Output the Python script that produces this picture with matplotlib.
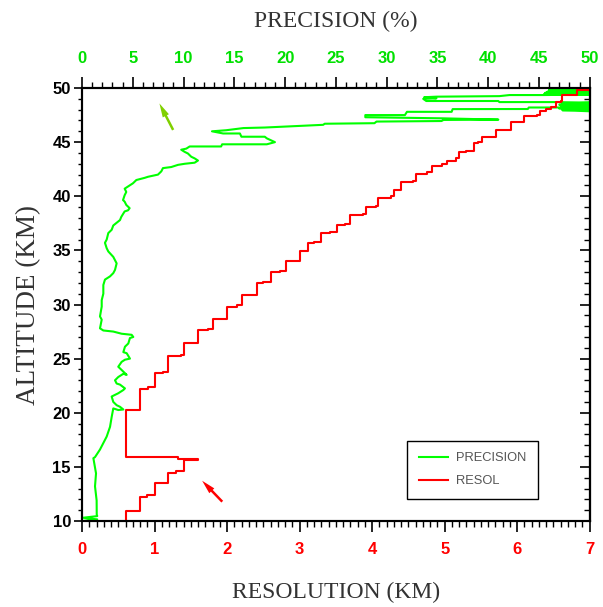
import numpy as np
import matplotlib
matplotlib.use("Agg")
import matplotlib.pyplot as plt
from matplotlib.ticker import MultipleLocator

# vertical resolution profile: value held between consecutive altitude edges (km)
res_alt_edges = [10.0, 10.95, 12.2, 12.4, 13.5, 14.4, 14.6, 15.6, 15.75, 15.95,
                 20.25, 22.2, 22.4, 23.7, 23.8, 25.2, 25.3, 26.4, 27.6, 27.75,
                 28.7, 29.8, 29.95, 30.9, 32.0, 32.1, 33.0, 33.1, 34.0, 34.9,
                 35.7, 35.8, 36.6, 36.7, 37.3, 37.4, 38.3, 38.4, 39.0, 39.1,
                 39.8, 40.0, 40.6, 41.3, 41.4, 42.1, 42.2, 42.8, 43.0, 43.3,
                 43.5, 44.1, 44.2, 44.9, 45.05, 45.5, 46.1, 46.9, 47.4, 47.5,
                 47.9, 48.1, 48.2, 48.7, 48.8, 49.35, 49.8, 50.0]
res_km = [0.61, 0.80, 0.90, 1.01, 1.19, 1.30, 1.40, 1.60, 1.33, 0.61,
          0.80, 0.91, 1.01, 1.12, 1.19, 1.37, 1.40, 1.60, 1.74, 1.81,
          2.00, 2.13, 2.20, 2.41, 2.50, 2.60, 2.73, 2.81, 3.01, 3.12,
          3.20, 3.30, 3.42, 3.51, 3.62, 3.70, 3.87, 3.91, 4.05, 4.08,
          4.26, 4.30, 4.40, 4.56, 4.61, 4.76, 4.82, 4.97, 5.03, 5.15,
          5.20, 5.30, 5.41, 5.46, 5.51, 5.71, 5.91, 6.09, 6.27, 6.31,
          6.40, 6.47, 6.53, 6.61, 6.62, 6.83, 7.0]

# precision profile (%)
prec_pct = [0.1, 1.5, 0.1, 1.5, 1.45, 1.44, 1.28, 1.38, 1.12, 1.28,
            1.77, 2.10, 2.43, 2.76, 2.92, 3.08, 3.57, 4.07, 3.74, 3.41,
            3.08, 2.92, 3.57, 4.07, 4.23, 3.74, 3.41, 3.25, 3.57, 4.07,
            4.40, 3.90, 3.57, 3.90, 4.23, 4.72, 4.40, 4.07, 4.23, 4.56,
            4.72, 5.05, 4.89, 3.90, 3.08, 2.10, 1.77, 1.94, 1.77, 1.94,
            1.94, 2.10, 2.10, 2.26, 2.76, 3.08, 3.25, 3.41, 3.25, 3.08,
            2.59, 2.43, 2.26, 2.43, 2.59, 2.92, 3.08, 3.74, 3.87, 4.20,
            4.53, 4.69, 4.36, 4.20, 4.04, 4.20, 4.36, 4.20, 4.53, 5.02,
            5.35, 6.17, 6.50, 7.48, 7.81, 7.97, 8.79, 9.45, 10.11, 11.09,
            11.42, 11.09, 10.76, 10.43, 10.11, 9.77, 10.27, 10.60, 13.7, 13.8,
            18.2, 19.0, 18.2, 18.0, 15.7, 15.55, 13.9, 12.8, 14.2, 15.9,
            18.0, 23.75, 23.9, 28.8, 29.0, 35.4, 35.6, 41.0, 35.5, 27.9,
            27.9, 31.8, 32.0, 36.4, 36.5, 43.9, 44.0, 47.2, 50.0, 47.3,
            50.0, 47.0, 50.0, 47.2, 50.0, 47.0, 50.0, 47.3, 50.0, 46.4,
            41.1, 41.0, 33.9, 33.6, 34.9, 33.7, 34.9, 41.1, 42.1, 45.4,
            50.0, 45.5, 50.0, 45.6, 50.0, 45.8, 50.0, 46.0, 50.0, 46.0,
            50.0, 46.0, 50.0]
prec_alt = [10.0, 10.15, 10.3, 10.45, 10.6, 11.9, 13.2, 14.4, 15.8, 15.9,
            16.6, 17.2, 17.8, 18.7, 19.6, 20.4, 20.25, 20.3, 20.55, 20.7,
            21.0, 21.5, 21.8, 22.1, 22.25, 22.6, 22.7, 23.0, 23.3, 23.6,
            23.5, 23.95, 24.25, 24.7, 24.9, 25.0, 25.5, 25.6, 26.1, 26.4,
            26.9, 27.0, 27.2, 27.3, 27.5, 27.6, 27.8, 28.6, 28.9, 29.8,
            30.4, 31.0, 31.8, 32.3, 32.6, 32.9, 33.2, 33.8, 34.1, 34.4,
            34.9, 35.2, 35.7, 36.0, 36.6, 36.9, 37.3, 37.8, 38.1, 38.6,
            38.7, 38.9, 39.2, 39.5, 39.65, 40.1, 40.4, 40.7, 40.9, 41.2,
            41.5, 41.7, 41.8, 42.0, 42.3, 42.6, 42.7, 42.9, 43.0, 43.1,
            43.3, 43.5, 43.65, 43.95, 44.1, 44.3, 44.4, 44.6, 44.6, 44.8,
            44.8, 45.0, 45.35, 45.5, 45.5, 45.8, 45.8, 46.0, 46.1, 46.3,
            46.35, 46.6, 46.7, 46.75, 46.9, 46.95, 47.05, 47.08, 47.2, 47.3,
            47.5, 47.5, 47.8, 47.8, 48.05, 48.06, 48.2, 48.2, 47.85, 47.95,
            48.0, 48.1, 48.2, 48.3, 48.35, 48.45, 48.5, 48.55, 48.65, 48.7,
            48.7, 48.8, 48.8, 49.0, 49.05, 49.15, 49.2, 49.25, 49.35, 49.35,
            49.4, 49.45, 49.5, 49.55, 49.6, 49.65, 49.7, 49.75, 49.8, 49.85,
            49.9, 49.95, 50.0]

alt_ticks = [10, 15, 20, 25, 30, 35, 40, 45, 50]
res_ticks = [0, 1, 2, 3, 4, 5, 6, 7]
prec_ticks = [0, 5, 10, 15, 20, 25, 30, 35, 40, 45, 50]

GREEN = '#00ff00'
GREEN_TXT = '#00e000'
RED = '#ff0000'
tick_font = {'family': 'Liberation Sans', 'weight': 'bold', 'size': 12}
label_font = {'family': 'Liberation Serif', 'size': 17, 'color': '#333333'}

# staircase path for the resolution curve
stair_x, stair_y = [], []
for i, r in enumerate(res_km):
    stair_x += [r, r]
    stair_y += [res_alt_edges[i], res_alt_edges[i + 1]]

fig = plt.figure(figsize=(6.03, 6.07), dpi=100)
ax = fig.add_axes([0.136, 0.1417, 0.842, 0.7133])
ax2 = ax.twiny()

# precision on the top axis, resolution on the bottom axis
l1, = ax.plot(prec_pct, prec_alt, color=GREEN, lw=1.5, label='PRECISION')
l2, = ax2.plot(stair_x, stair_y, color=RED, lw=1.5, label='RESOL')

ax.set_xlim(0, 50)
ax.set_ylim(10, 50)
ax2.set_xlim(0, 7)

ax.xaxis.tick_top()
ax.xaxis.set_label_position('top')
ax.set_xticks(prec_ticks)
ax.xaxis.set_minor_locator(MultipleLocator(1))
ax.set_xticklabels([str(t) for t in prec_ticks], fontdict=tick_font, color=GREEN_TXT)
ax.tick_params(axis='x', which='major', direction='out', length=8, width=1.2, pad=8)
ax.tick_params(axis='x', which='minor', direction='out', length=4, width=1.0)

ax2.xaxis.tick_bottom()
ax2.xaxis.set_label_position('bottom')
ax2.set_xticks(res_ticks)
ax2.xaxis.set_minor_locator(MultipleLocator(0.1))
ax2.set_xticklabels([str(t) for t in res_ticks], fontdict=tick_font, color=RED)
ax2.tick_params(axis='x', which='major', direction='out', length=8, width=1.2, pad=7)
ax2.tick_params(axis='x', which='minor', direction='out', length=4.5, width=1.0)

ax.set_yticks(alt_ticks)
ax.yaxis.set_minor_locator(MultipleLocator(1))
ax.set_yticklabels([str(t) for t in alt_ticks], fontdict=tick_font, color='black')
ax.tick_params(axis='y', which='major', direction='out', length=6, width=1.2, pad=2)
ax.tick_params(axis='y', which='minor', direction='out', length=3, width=1.0)

# right-hand ticks point inward
sec = ax.secondary_yaxis('right')
sec.set_yticks(alt_ticks)
sec.yaxis.set_minor_locator(MultipleLocator(1))
sec.tick_params(axis='y', which='major', direction='in', length=7, width=1.2, labelright=False)
sec.tick_params(axis='y', which='minor', direction='in', length=4, width=1.0)

for a in (ax, ax2):
    for s in a.spines.values():
        s.set_linewidth(1.5)
sec.spines['right'].set_linewidth(1.5)

ax.set_xlabel('PRECISION (%)', fontdict=label_font, labelpad=17)
ax2.set_xlabel('RESOLUTION (KM)', fontdict=label_font, labelpad=18)
ax.set_ylabel('ALTITUDE (KM)', fontdict={**label_font, 'size': 19.5}, labelpad=8)

# pointer arrows
ax.annotate('', xy=(7.5, 48.8), xytext=(9.1, 45.9),
            arrowprops=dict(arrowstyle='simple,head_length=1.0,head_width=0.5,tail_width=0.18',
                            color='#80d000', lw=0))
ax2.annotate('', xy=(1.63, 13.9), xytext=(1.96, 11.6),
             arrowprops=dict(arrowstyle='simple,head_length=1.0,head_width=0.5,tail_width=0.18',
                             color=RED, lw=0))

leg = ax2.legend(handles=[l1, l2], loc='lower left', bbox_to_anchor=(0.640, 0.051),
                 frameon=True, fancybox=False, edgecolor='black', framealpha=1,
                 prop={'family': 'Liberation Sans', 'size': 9.3},
                 handlelength=2.3, handletextpad=0.6, borderpad=0.9, labelspacing=0.85,
                 borderaxespad=0)
leg.get_frame().set_linewidth(1.0)
for t in leg.get_texts():
    t.set_color('#555555')

fig.savefig('out.png', dpi=100)
